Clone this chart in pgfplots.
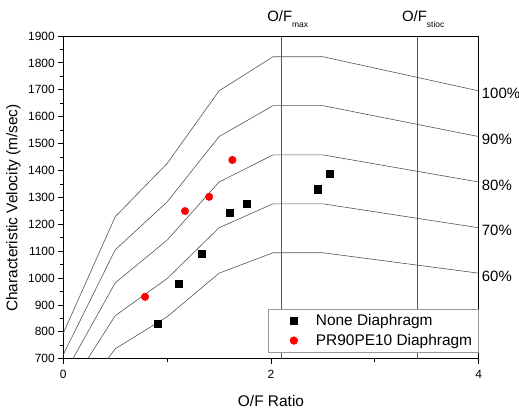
\documentclass[border=0pt]{standalone}
\usepackage{pgfplots}
\pgfplotsset{compat=1.18}
\usepackage{fontspec}
\setmainfont{Liberation Sans}
\definecolor{curve}{HTML}{555555}
\begin{document}
\begin{tikzpicture}
\begin{axis}[
 scale only axis, width=415.4bp, height=322.7bp,
 xmin=0, xmax=4, ymin=700, ymax=1900,
 xtick={0,2,4}, minor xtick={1,3},
 ytick={700,800,...,1900}, minor ytick={750,850,...,1850},
 tick align=outside, xtick pos=bottom, ytick pos=left,
 major tick length=5bp, minor tick length=3bp,
 tick style={black, line width=0.8bp},
 axis line style={line width=0.9bp},
 /pgf/number format/assume math mode=true,
 /pgf/number format/1000 sep={},
 ticklabel style={font=\fontsize{12}{14}\selectfont},
 xticklabel style={yshift=-3bp},
 xlabel={O/F Ratio}, ylabel={Characteristic Velocity (m/sec)},
 label style={font=\fontsize{15.5}{18}\selectfont},
 xlabel style={at={(axis description cs:0.5,-0.131)},anchor=center},
 ylabel style={at={(axis description cs:-0.1199,0.467)},anchor=center},
 clip mode=individual,
 legend image code/.code={\path (-19bp,0bp) (21.7bp,0bp); \draw[#1] plot coordinates {(0bp,0bp)};},
 legend style={at={(axis description cs:0.4935,0.0198)}, anchor=south west,
   draw=gray!80, line width=0.6bp, font=\fontsize{15.5}{18}\selectfont,
   inner xsep=6bp, inner ysep=1.5bp,
   nodes={inner xsep=0pt, inner ysep=3.6bp},
   cells={anchor=west}},
]
% efficiency curves
\addplot[curve, line width=0.6bp, forget plot] coordinates {(0,795) (0.5,1228) (1.0,1426) (1.5,1696) (2.02,1823) (2.5,1823) (4,1696)};
\addplot[curve, line width=0.6bp, forget plot] coordinates {(0,715.5) (0.5,1105) (1.0,1283) (1.5,1526) (2.02,1641) (2.5,1641) (4,1526)};
\addplot[curve, line width=0.6bp, forget plot] coordinates {(0,636) (0.5,982) (1.0,1141) (1.5,1357) (2.02,1458) (2.5,1458) (4,1357)};
\addplot[curve, line width=0.6bp, forget plot] coordinates {(0,556.5) (0.5,860) (1.0,998) (1.5,1187) (2.02,1276) (2.5,1276) (4,1187)};
\addplot[curve, line width=0.6bp, forget plot] coordinates {(0,477) (0.5,737) (1.0,856) (1.5,1018) (2.02,1094) (2.5,1094) (4,1018)};
% vertical lines
\addplot[curve, line width=0.6bp, forget plot] coordinates {(2.10,700) (2.10,1900)};
\addplot[curve, line width=0.6bp, forget plot] coordinates {(3.41,700) (3.41,1900)};
% data
\addplot[only marks, mark=square*, mark size=3.6bp, black] coordinates {
 (0.91,829) (1.108,978) (1.333,1089) (1.606,1244) (1.767,1275) (2.45,1330) (2.566,1387)};
\addlegendentry{None Diaphragm}
\addplot[only marks, mark=*, mark size=3.8bp, red, mark options={draw=red, fill=red}] coordinates {
 (0.787,930) (1.172,1249) (1.404,1302) (1.628,1439)};
\addlegendentry{PR90PE10 Diaphragm}
% labels
\node[anchor=west, inner sep=0pt, xshift=3bp, yshift=-3bp, font=\fontsize{15}{18}\selectfont] at (axis cs:4,1696) {100\%};
\node[anchor=west, inner sep=0pt, xshift=3bp, yshift=-3bp, font=\fontsize{15}{18}\selectfont] at (axis cs:4,1526) {90\%};
\node[anchor=west, inner sep=0pt, xshift=3bp, yshift=-3bp, font=\fontsize{15}{18}\selectfont] at (axis cs:4,1357) {80\%};
\node[anchor=west, inner sep=0pt, xshift=3bp, yshift=-3bp, font=\fontsize{15}{18}\selectfont] at (axis cs:4,1187) {70\%};
\node[anchor=west, inner sep=0pt, xshift=3bp, yshift=-3bp, font=\fontsize{15}{18}\selectfont] at (axis cs:4,1018) {60\%};
\node[anchor=base west, inner sep=0pt, yshift=14bp, font=\fontsize{15}{18}\selectfont] at (axis cs:1.962,1900) {O/F\raisebox{-6bp}{\fontsize{8.5}{9}\selectfont max}};
\node[anchor=base west, inner sep=0pt, yshift=14bp, font=\fontsize{15}{18}\selectfont] at (axis cs:3.260,1900) {O/F\raisebox{-6bp}{\fontsize{8.5}{9}\selectfont stioc}};
\end{axis}
\pgfresetboundingbox
\path[use as bounding box] (-63.3bp,-51.3bp) rectangle (455.7bp,358.7bp);
\end{tikzpicture}
\end{document}
